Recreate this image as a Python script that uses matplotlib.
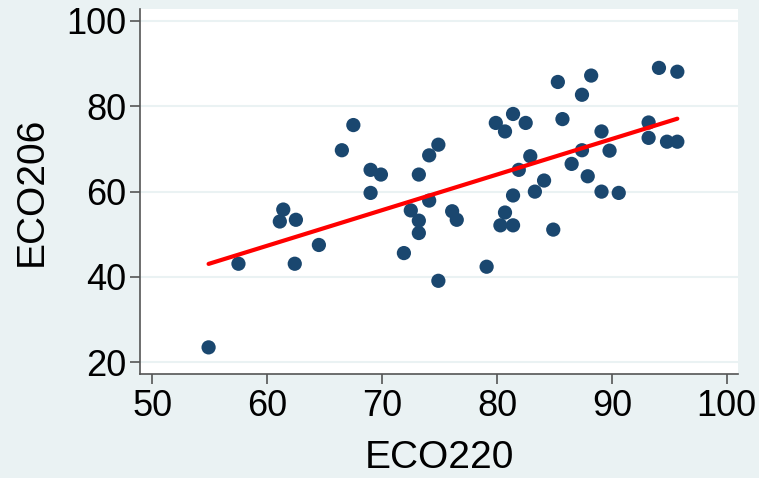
import numpy as np
import matplotlib.pyplot as plt

# data
eco220 = [54.9, 57.5, 62.4, 61.1, 61.4, 62.5, 64.5, 66.5, 67.5, 69.0,
          69.9, 69.0, 71.9, 72.5, 73.2, 73.2, 73.2, 74.1, 74.9, 74.1,
          74.9, 76.1, 76.5, 79.1, 79.9, 80.7, 81.4, 82.5, 80.7, 80.3,
          81.4, 81.4, 81.9, 82.9, 83.3, 84.1, 84.9, 85.3, 85.7, 86.5,
          87.4, 88.2, 87.4, 87.9, 89.1, 89.8, 89.1, 90.6, 93.2, 93.2,
          94.1, 95.7, 94.8, 95.7]
eco206 = [23.5, 43.1, 43.1, 53.0, 55.8, 53.4, 47.5, 69.7, 75.6, 65.1,
          64.0, 59.7, 45.6, 55.6, 53.2, 50.3, 64.0, 68.5, 71.0, 57.9,
          39.1, 55.4, 53.4, 42.4, 76.1, 74.1, 78.2, 76.1, 55.1, 52.1,
          52.1, 59.1, 65.1, 68.3, 60.0, 62.6, 51.1, 85.7, 77.0, 66.5,
          82.7, 87.2, 69.7, 63.6, 74.1, 69.6, 60.0, 59.7, 76.2, 72.6,
          89.0, 88.1, 71.7, 71.7]
x_ticks = [50, 60, 70, 80, 90, 100]
y_ticks = [20, 40, 60, 80, 100]

bg = "#EAF2F3"
navy = "#1A476F"

plt.rcParams['font.family'] = ['Liberation Sans', 'DejaVu Sans']

fig = plt.figure(figsize=(7.59, 4.78), dpi=100, facecolor=bg)
ax = fig.add_axes([140/759, 1 - 374/478, 598/759, 365/478])
ax.set_facecolor("white")

x = np.array(eco220)
y = np.array(eco206)

# linear fit line (like Stata lfit)
slope, intercept = np.polyfit(x, y, 1)
xs = np.array([x.min(), x.max()])
ax.plot(xs, intercept + slope * xs, color="red", lw=3, zorder=3, solid_capstyle="round")

ax.scatter(x, y, s=105, color=navy, edgecolors="none", zorder=2)

ax.set_xlim(48.93, 100.98)
ax.set_ylim(17.26, 102.8)
ax.set_xticks(x_ticks)
ax.set_yticks(y_ticks)
ax.grid(axis="y", color=bg, lw=1.5, zorder=0)
ax.set_axisbelow(True)

for s in ["top", "right"]:
    ax.spines[s].set_visible(False)
for s in ["left", "bottom"]:
    ax.spines[s].set_color("#555555")
    ax.spines[s].set_linewidth(1.2)

ax.tick_params(axis="both", labelsize=26, length=7, width=1.2, color="#555555", pad=4)
ax.tick_params(axis="y", pad=3)

ax.set_xlabel("ECO220", fontsize=28, labelpad=11)
ax.set_ylabel("ECO206", fontsize=28, labelpad=12)

plt.savefig("out.png", dpi=100, facecolor=bg)
